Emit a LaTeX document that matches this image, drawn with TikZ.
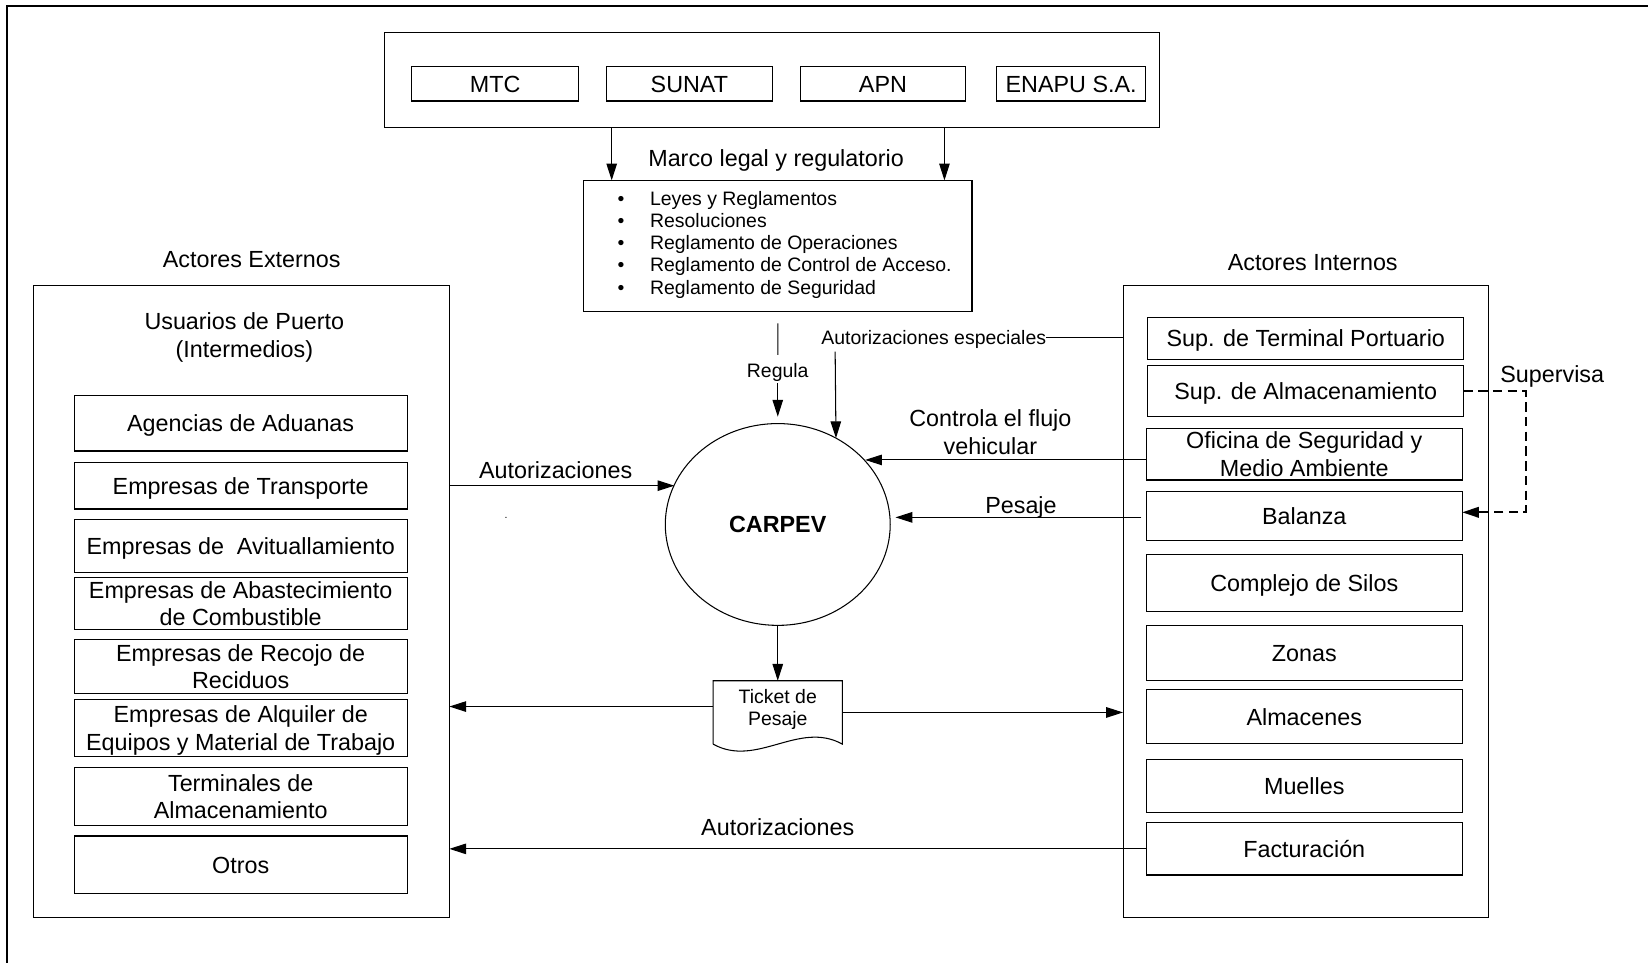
\documentclass[tikz,border=0pt]{standalone}
\usepackage{fontspec}
\setmainfont{Liberation Sans}
\usetikzlibrary{arrows.meta,shapes.geometric,calc}
\newcommand{\bigfnt}{\fontsize{11.1}{13}\selectfont}
\newcommand{\smallfnt}{\fontsize{9.25}{10.5}\selectfont}
\begin{document}
\begin{tikzpicture}[x=0.5pt,y=-0.5pt,
  line width=0.5pt,
  box/.style={draw, rectangle, inner sep=0pt, outer sep=0pt, align=center, font=\bigfnt,
              text height=8.1pt, text depth=0pt},
  lbl/.style={inner sep=0pt, outer sep=0pt, align=center, font=\bigfnt,
              text height=8.1pt, text depth=0pt},
  slbl/.style={inner sep=0pt, outer sep=0pt, align=center, font=\smallfnt,
              text height=6.75pt, text depth=0pt},
  two/.style={text height=21.1pt},
  stwo/.style={text height=17.25pt},
  item/.style={inner sep=0pt, outer sep=0pt, font=\smallfnt, text height=7.5pt, text depth=1pt},
  arr/.style={-{Triangle[length=8pt,width=5pt]}},
  supdash/.style={dash pattern=on 4.5pt off 2.5pt, line width=1pt},
]
\useasboundingbox (0,0) rectangle (1568,916);

% page frame (top and left edges)
\draw[line width=1pt] (7,916) -- (7,5.7) -- (1568,5.7);

% ---------- regulating bodies ----------
\node[box, minimum width=368.9pt, minimum height=45.05pt] (top) at (734.5,76.05) {};
\node[box, minimum width=79.35pt, minimum height=16.35pt] (mtc)   at (471.15,79.75) {MTC};
\node[box, minimum width=79.1pt,  minimum height=16.35pt] (sunat) at (655.9,79.75)  {SUNAT};
\node[box, minimum width=78.9pt,  minimum height=16.35pt] (apn)   at (840.1,79.75)  {APN};
\node[box, minimum width=71.15pt, minimum height=16.35pt] (enapu) at (1019.15,79.75) {ENAPU S.A.};

\node[lbl] (marco) at (738.4,150.6) {Marco legal y regulatorio};

% ---------- legal framework ----------
\node[box, minimum width=184.7pt, minimum height=62.6pt] (legal) at (740.1,234.2) {};
\node[item] (b1) at (590.8,189.3) {•};
\node[item] (b2) at (590.8,209.9) {•};
\node[item] (b3) at (590.8,230.9) {•};
\node[item] (b4) at (590.8,252.1) {•};
\node[item] (b5) at (590.8,273.4) {•};
\node[item, anchor=west] (l1) at (618.5,189.3) {Leyes y Reglamentos};
\node[item, anchor=west] (l2) at (618.5,209.9) {Resoluciones};
\node[item, anchor=west] (l3) at (618.5,230.9) {Reglamento de Operaciones};
\node[item, anchor=west] (l4) at (618.5,252.1) {Reglamento de Control de Acceso.};
\node[item, anchor=west] (l5) at (618.5,273.4) {Reglamento de Seguridad};

\coordinate (m1) at (582,0);
\coordinate (m2) at (898.6,0);
\draw[arr] (m1 |- top.south) -- (m1 |- legal.north);
\draw[arr] (m2 |- top.south) -- (m2 |- legal.north);

% ---------- central process ----------
\node[draw, ellipse, inner sep=0pt, outer sep=0pt, minimum width=107pt, minimum height=96pt,
      font=\bigfnt\bfseries] (carpev) at (740,499) {CARPEV};

% ---------- external actors ----------
\node[lbl] (actext) at (239.5,246) {Actores Externos};
\node[box, minimum width=197.9pt, minimum height=300.5pt] (lbox) at (229.6,572.3) {};
\node[lbl, two] (usuarios) at (232.5,318.7) {Usuarios de Puerto\\(Intermedios)};
\node[box, minimum width=158.3pt, minimum height=26.2pt]  (agen)   at (229,402.9) {Agencias de Aduanas};
\node[box, minimum width=158.3pt, minimum height=22.2pt]  (transp) at (229,462.1) {Empresas de Transporte};
\node[box, minimum width=158.3pt, minimum height=24.9pt]  (avit)   at (229,519.6) {Empresas de\ \ Avituallamiento};
\node[box, two, minimum width=158.3pt, minimum height=24.6pt]  (abast)  at (229,574.2) {Empresas de Abastecimiento\\de Combustible};
\node[box, two, minimum width=158.3pt, minimum height=25.7pt]  (recojo) at (229,634) {Empresas de Recojo de\\Reciduos};
\node[box, two, minimum width=158.3pt, minimum height=27.45pt] (alqui)  at (229,692.55) {Empresas de Alquiler de\\Equipos y Material de Trabajo};
\node[box, two, minimum width=158.3pt, minimum height=27.6pt]  (termi)  at (229,757.7) {Terminales de\\Almacenamiento};
\node[box, minimum width=158.3pt, minimum height=27.45pt] (otros)  at (229,822.85) {Otros};

% ---------- internal actors ----------
\node[lbl] (actint) at (1249,249) {Actores Internos};
\node[box, minimum width=173.95pt, minimum height=300.65pt] (rbox) at (1242.45,572.15) {};
\node[box, minimum width=150.15pt, minimum height=19.8pt]  (supterm) at (1242.35,321.8) {Sup. de Terminal Portuario};
\node[box, minimum width=150.15pt, minimum height=24.6pt]  (supalm)  at (1242.35,371.9) {Sup. de Almacenamiento};
\node[box, two, minimum width=150.15pt, minimum height=24.7pt]  (ofic)    at (1240.95,432) {Oficina de Seguridad y\\Medio Ambiente};
\node[box, minimum width=150.15pt, minimum height=23.65pt] (balanza) at (1240.95,490.85) {Balanza};
\node[box, minimum width=150.15pt, minimum height=27.3pt]  (silos)   at (1240.95,554.7) {Complejo de Silos};
\node[box, minimum width=150.15pt, minimum height=26.15pt] (zonas)   at (1240.95,621.15) {Zonas};
\node[box, minimum width=150.15pt, minimum height=25.55pt] (almac)   at (1240.95,681.75) {Almacenes};
\node[box, minimum width=150.15pt, minimum height=25.05pt] (muelles) at (1240.95,747.55) {Muelles};
\node[box, minimum width=150.15pt, minimum height=24.85pt] (fact)    at (1240.95,807.65) {Facturación};

% ---------- weighing ticket (document shape) ----------
\node[inner sep=0pt, outer sep=0pt, minimum width=61.5pt, minimum height=30.15pt] (ticket) at (740,677.85) {};
\draw (ticket.south west) -- (ticket.north west) -- (ticket.north east) -- (ticket.south east)
  .. controls ($(ticket.south east)+(-41.5,-23)$) and ($(ticket.south west)+(41.5,23)$) .. (ticket.south west);
\node[slbl, stwo] (tickettxt) at (740,673) {Ticket de\\Pesaje};

% ---------- flow labels ----------
\node[slbl] (regula) at (740,352) {Regula};
\node[slbl] (aesp) at (888.4,321.2) {Autorizaciones especiales};
\node[lbl, two] (controla) at (942.3,411) {Controla el flujo\\vehicular};
\node[lbl] (pesaje) at (971.4,480) {Pesaje};
\node[lbl] (autoriz1) at (528.7,447) {Autorizaciones};
\node[lbl] (autoriz2) at (740,787) {Autorizaciones};
\node[lbl] (superv) at (1476.9,356.2) {Supervisa};
\node[inner sep=0pt, font=\tiny, anchor=base] (dot) at (481.4,493.5) {.};

% ---------- connectors ----------
% regulation
\draw[shorten <=5.4pt, shorten >=3.8pt] (legal.south) -- (regula.north);
\draw[arr, shorten <=3pt, shorten >=3.3pt] (regula.south) -- (carpev.north);
% special authorisations from the internal actors
\coordinate (ae) at (794.6,334.6);
\draw (aesp.east) -- (aesp.east -| rbox.west);
\draw[arr] (ae) -- (carpev.56.5);
% vehicle flow control
\draw[arr] ([yshift=-2.8pt]ofic.west) -- ([yshift=-2.8pt]ofic.west -| carpev.36.7);
% weighing
\draw[arr, shorten <=2.4pt, shorten >=2.5pt] ([yshift=-0.7pt]balanza.west) -- ([yshift=-0.7pt]balanza.west -| carpev.east);
% authorisations from external actors
\draw[arr] (transp.east -| lbox.east) -- (transp.east -| carpev.159.5);
% ticket issued
\draw[arr] (carpev.south) -- (ticket.north);
\draw[arr] ([yshift=2.8pt]ticket.west) -- ([yshift=2.8pt]ticket.west -| lbox.east);
\draw[arr] (ticket.east) -- (ticket.east -| rbox.west);
% billing authorisations
\draw[arr] (fact.west) -- (fact.west -| lbox.east);
% supervision
\draw[supdash, arr] (supalm.east) -- ++(59.2,0) |- ([yshift=1.7pt]balanza.east);
\end{tikzpicture}
\end{document}
